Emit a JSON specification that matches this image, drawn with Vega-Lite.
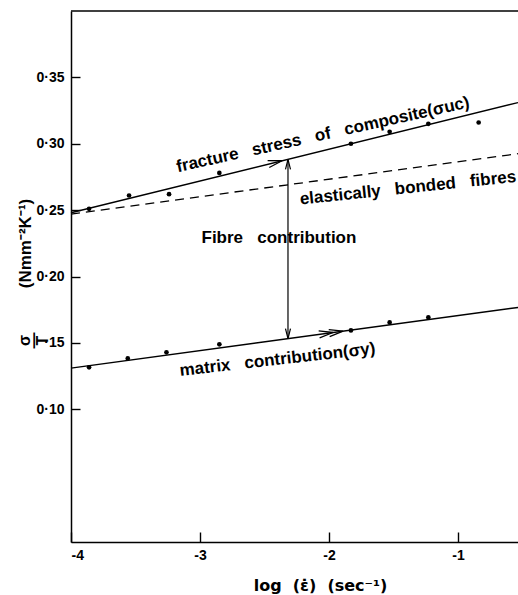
{
  "$schema": "https://vega.github.io/schema/vega-lite/v6.json",
  "width": 447,
  "height": 531,
  "autosize": {"type": "none"},
  "padding": {"left": 71, "top": 11, "right": 0, "bottom": 53},
  "background": "white",
  "config": {
    "view": {"stroke": null},
    "axis": {
      "domainColor": "black", "domainWidth": 1.5,
      "tickColor": "black", "tickWidth": 1.4, "grid": false,
      "labelColor": "black", "labelFont": "Liberation Sans", "labelFontWeight": "bold", "labelFontSize": 14,
      "titleColor": "black", "titleFont": "Liberation Sans", "titleFontWeight": "bold"
    },
    "text": {"font": "Liberation Sans", "fontWeight": "bold", "fontSize": 17, "color": "black"}
  },
  "datasets": {
    "composite_pts": [
      {"x": -3.86, "y": 0.251}, {"x": -3.55, "y": 0.261}, {"x": -3.24, "y": 0.262},
      {"x": -2.85, "y": 0.278}, {"x": -1.83, "y": 0.300}, {"x": -1.53, "y": 0.309},
      {"x": -1.23, "y": 0.315}, {"x": -0.84, "y": 0.316}
    ],
    "matrix_pts": [
      {"x": -3.86, "y": 0.1316}, {"x": -3.56, "y": 0.1383}, {"x": -3.26, "y": 0.1429},
      {"x": -2.85, "y": 0.1489}, {"x": -1.83, "y": 0.1594}, {"x": -1.53, "y": 0.1654},
      {"x": -1.23, "y": 0.1692}
    ],
    "composite_line": [{"x": -4, "y": 0.248}, {"x": -0.535, "y": 0.331}],
    "elastic_line": [{"x": -4, "y": 0.247}, {"x": -0.535, "y": 0.2925}],
    "matrix_line": [{"x": -4, "y": 0.131}, {"x": -0.535, "y": 0.1767}],
    "frame": [{"x": -4, "y": 0.4}, {"x": -0.535, "y": 0.4}]
  },
  "encoding": {
    "x": {
      "field": "x", "type": "quantitative",
      "scale": {"domain": [-4, -0.535], "nice": false, "zero": false},
      "axis": {
        "values": [-4, -3, -2, -1],
        "labelExpr": "'-' + abs(datum.value)",
        "tickSize": -10, "labelPadding": 16,
        "title": "log\u00a0\u00a0(\u03b5\u0307)\u00a0\u00a0(sec\u207b\u00b9)",
        "titleFont": "DejaVu Sans",
        "titleFontSize": 16, "titleX": 249, "titleY": 43,
        "titleBaseline": "middle", "titleAlign": "center"
      }
    },
    "y": {
      "field": "y", "type": "quantitative",
      "scale": {"domain": [0, 0.4], "nice": false, "zero": false},
      "axis": null
    }
  },
  "resolve": {"axis": {"y": "independent"}},
  "layer": [
    {"data": {"name": "frame"}, "mark": {"type": "line", "color": "black", "strokeWidth": 1.5}, "encoding": {}},
    {"data": {"name": "composite_line"}, "mark": {"type": "line", "color": "black", "strokeWidth": 1.4}, "encoding": {}},
    {"data": {"name": "elastic_line"}, "mark": {"type": "line", "color": "black", "strokeWidth": 1.3, "strokeDash": [9, 6]}, "encoding": {}},
    {"data": {"name": "matrix_line"}, "mark": {"type": "line", "color": "black", "strokeWidth": 1.4}, "encoding": {}},
    {
      "data": {"name": "composite_pts"},
      "mark": {"type": "point", "filled": true, "size": 22, "color": "black", "opacity": 1},
      "encoding": {
        "y": {
          "field": "y", "type": "quantitative",
          "scale": {"domain": [0, 0.4], "nice": false, "zero": false},
          "axis": {
            "orient": "left",
            "values": [0.1, 0.15, 0.2, 0.25, 0.3, 0.35],
            "labelExpr": "datum.value == 0.15 ? '\u00b715' : '0\u00b7' + round(datum.value * 100)",
            "tickSize": -9, "labelPadding": 16,
            "title": "(Nmm\u207b\u00b2K\u207b\u00b9)",
            "titleFontSize": 17, "titleX": -46, "titleY": 232,
            "titleBaseline": "middle", "titleAlign": "center", "titleAngle": -90
          }
        }
      }
    },
    {
      "data": {"name": "matrix_pts"},
      "mark": {"type": "point", "filled": true, "size": 22, "color": "black", "opacity": 1},
      "encoding": {
        "y": {
          "field": "y", "type": "quantitative",
          "scale": {"domain": [0, 0.4], "nice": false, "zero": false},
          "axis": {
            "orient": "left", "labels": false, "ticks": false, "domain": false,
            "title": ["\u03c3", "\u2014", "T"],
            "titleFontSize": 16, "titleLineHeight": 9,
            "titleX": -47, "titleY": 329,
            "titleBaseline": "middle", "titleAlign": "center", "titleAngle": -90
          }
        }
      }
    },
    {
      "data": {"values": [{"x": -2.318, "y": 0.1532, "y2": 0.2883}]},
      "mark": {"type": "rule", "color": "black", "strokeWidth": 1.2},
      "encoding": {"y2": {"field": "y2"}}
    },
    {
      "data": {"values": [{"x": -2.364, "y": 0.2872}]},
      "mark": {"type": "point", "shape": "M-1,-0.25L0,0L-1,0.25", "size": 784, "filled": false, "stroke": "black", "strokeWidth": 1.3, "angle": -13.8, "opacity": 1},
      "encoding": {}
    },
    {
      "data": {"values": [{"x": -1.969, "y": 0.1578}, {"x": -1.891, "y": 0.1588}]},
      "mark": {"type": "point", "shape": "M-1,-0.25L0,0L-1,0.25", "size": 784, "filled": false, "stroke": "black", "strokeWidth": 1.3, "angle": -7.8, "opacity": 1},
      "encoding": {}
    },
    {
      "data": {"values": [{"x": -2.318, "y": 0.2883}]},
      "mark": {"type": "point", "shape": "M-1,-0.25L0,0L-1,0.25", "size": 400, "filled": false, "stroke": "black", "strokeWidth": 1.2, "angle": -90, "opacity": 1},
      "encoding": {}
    },
    {
      "data": {"values": [{"x": -2.318, "y": 0.1532}]},
      "mark": {"type": "point", "shape": "M-1,-0.25L0,0L-1,0.25", "size": 400, "filled": false, "stroke": "black", "strokeWidth": 1.2, "angle": 90, "opacity": 1},
      "encoding": {}
    },
    {
      "data": {"values": [{"x": -2.039, "y": 0.303, "label": "fracture\u00a0\u00a0\u00a0stress\u00a0\u00a0\u00a0of\u00a0\u00a0\u00a0composite(\u03c3uc)"}]},
      "mark": {"type": "text", "angle": -12.5, "align": "center", "baseline": "alphabetic"},
      "encoding": {"text": {"field": "label"}}
    },
    {
      "data": {"values": [{"x": -1.384, "y": 0.2628, "label": "elastically\u00a0\u00a0\u00a0bonded\u00a0\u00a0\u00a0fibres"}]},
      "mark": {"type": "text", "angle": -6, "align": "center", "baseline": "alphabetic"},
      "encoding": {"text": {"field": "label"}}
    },
    {
      "data": {"values": [{"x": -2.388, "y": 0.2256, "label": "Fibre\u00a0\u00a0\u00a0contribution"}]},
      "mark": {"type": "text", "angle": 0, "align": "center", "baseline": "alphabetic"},
      "encoding": {"text": {"field": "label"}}
    },
    {
      "data": {"values": [{"x": -2.395, "y": 0.1335, "label": "matrix\u00a0\u00a0\u00a0contribution(\u03c3y)"}]},
      "mark": {"type": "text", "angle": -6.5, "align": "center", "baseline": "alphabetic"},
      "encoding": {"text": {"field": "label"}}
    }
  ]
}
